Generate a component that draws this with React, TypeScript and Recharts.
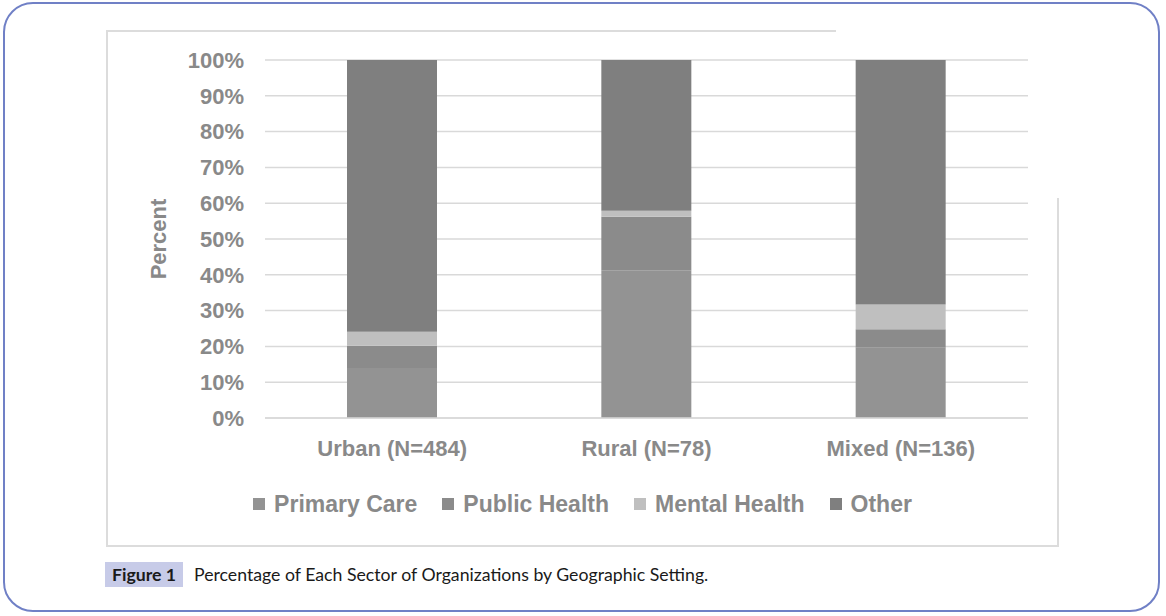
import { BarChart, Bar, XAxis, YAxis, CartesianGrid, Legend } from 'recharts';

const categories = ['Urban (N=484)', 'Rural (N=78)', 'Mixed (N=136)'];
const primaryCare = [14.0, 41.3, 19.6];
const publicHealth = [6.2, 14.9, 5.2];
const mentalHealth = [3.9, 1.7, 6.9];
const other = [75.9, 42.1, 68.3];
const yTicks = [0, 10, 20, 30, 40, 50, 60, 70, 80, 90, 100];

const SERIES = [
  { key: 'primary', name: 'Primary Care', color: '#939393' },
  { key: 'public', name: 'Public Health', color: '#8b8b8b' },
  { key: 'mental', name: 'Mental Health', color: '#bfbfbf' },
  { key: 'other', name: 'Other', color: '#7f7f7f' },
];

const data = categories.map((name, i) => ({
  name,
  primary: primaryCare[i],
  public: publicHealth[i],
  mental: mentalHealth[i],
  other: other[i],
}));

const TEXT = '#898989';
const FONT = 'Liberation Sans, Arial, sans-serif';

function LegendBox() {
  return (
    <div
      style={{
        height: 36,
        display: 'flex',
        justifyContent: 'center',
        alignItems: 'center',
        paddingLeft: 30,
        fontFamily: FONT,
        fontWeight: 'bold',
        fontSize: 23,
        color: TEXT,
      }}
    >
      {SERIES.map((s, i) => (
        <div
          key={s.key}
          style={{ display: 'flex', alignItems: 'center', marginRight: i < SERIES.length - 1 ? 25 : 0 }}
        >
          <span style={{ width: 12, height: 12, background: s.color, marginRight: 9, display: 'inline-block' }} />
          <span style={{ fontFamily: FONT }}>{s.name}</span>
        </div>
      ))}
    </div>
  );
}

function PercentLabel(props: any) {
  const { x, y, height } = props.viewBox;
  const cx = x + 51;
  const cy = y + height / 2;
  return (
    <text
      x={cx}
      y={cy}
      transform={`rotate(-90, ${cx}, ${cy})`}
      textAnchor="middle"
      dominantBaseline="central"
      fill={TEXT}
      fontFamily={FONT}
      fontWeight="bold"
      fontSize={22}
    >
      Percent
    </text>
  );
}

export default function App() {
  return (
    <div style={{ position: 'absolute', left: 0, top: 0, width: 1166, height: 616, background: '#fff' }}>
      <div
        style={{
          position: 'absolute',
          left: 3,
          top: 2,
          width: 1157,
          height: 610,
          border: '2.5px solid #7080c6',
          borderRadius: 30,
          boxSizing: 'border-box',
        }}
      />
      {/* chart frame, partly drawn like the source */}
      <div style={{ position: 'absolute', left: 106, top: 30, width: 2, height: 516, background: '#dcdcdc' }} />
      <div style={{ position: 'absolute', left: 106, top: 30, width: 730, height: 2, background: '#dcdcdc' }} />
      <div style={{ position: 'absolute', left: 106, top: 545, width: 953, height: 2, background: '#dcdcdc' }} />
      <div style={{ position: 'absolute', left: 1057, top: 198, width: 2, height: 349, background: '#dcdcdc' }} />

      <div style={{ position: 'absolute', left: 107, top: 30 }}>
        <BarChart width={951} height={515} data={data} margin={{ top: 30, right: 30, left: 0, bottom: 23 }}>
          <CartesianGrid vertical={false} stroke="#d9d9d9" strokeWidth={1.5} />
          <XAxis
            dataKey="name"
            height={68}
            tickLine={false}
            tickSize={0}
            tickMargin={22}
            axisLine={{ stroke: '#d9d9d9', strokeWidth: 1.5 }}
            tick={{ fill: TEXT, fontSize: 22, fontWeight: 'bold', fontFamily: FONT }}
          />
          <YAxis
            width={158}
            domain={[0, 100]}
            ticks={yTicks}
            interval={0}
            tickFormatter={(v) => `${v}%`}
            axisLine={false}
            tickLine={false}
            tickSize={0}
            tickMargin={21}
            tick={{ fill: TEXT, fontSize: 22, fontWeight: 'bold', fontFamily: FONT }}
            label={{ content: PercentLabel }}
          />
          <Legend verticalAlign="bottom" content={() => <LegendBox />} />
          {SERIES.map((s) => (
            <Bar key={s.key} dataKey={s.key} name={s.name} stackId="a" fill={s.color} barSize={90} isAnimationActive={false} />
          ))}
        </BarChart>
      </div>

      <div
        style={{
          position: 'absolute',
          left: 105,
          top: 562,
          height: 25,
          display: 'flex',
          alignItems: 'center',
          fontFamily: 'Lato, sans-serif',
          fontSize: 17.7,
          color: '#1a1a1a',
        }}
      >
        <span
          style={{
            background: '#c7cbe8',
            height: 25,
            width: 78,
            display: 'flex',
            alignItems: 'center',
            justifyContent: 'center',
            fontWeight: 'bold',
            marginRight: 11,
          }}
        >
          Figure 1
        </span>
        <span>Percentage of Each Sector of Organizations by Geographic Setting.</span>
      </div>
    </div>
  );
}
